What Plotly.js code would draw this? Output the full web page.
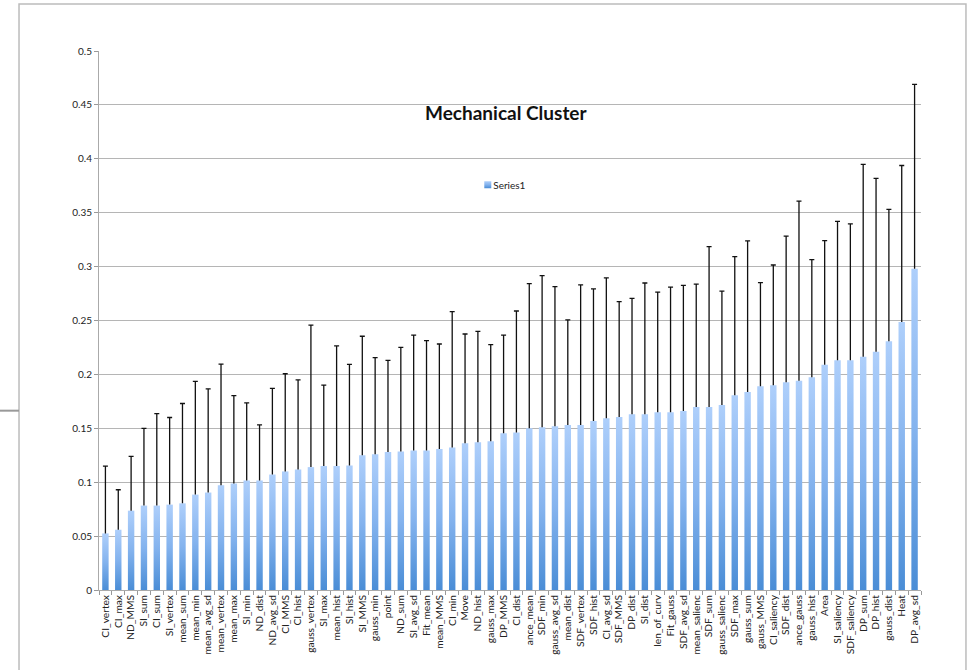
<!DOCTYPE html>
<html>
<head>
<meta charset="utf-8">
<script src="https://cdn.plot.ly/plotly-3.0.1.min.js"></script>
<style>
  html, body { margin: 0; padding: 0; background: #ffffff; }
  #chart { width: 969px; height: 670px; }
</style>
</head>
<body>
<div id="chart"></div>
<script>
const categories = [
  "CI_vertex","CI_max","ND_MMS","SI_sum","CI_sum","SI_vertex","mean_sum","mean_min",
  "mean_avg_sd","mean_vertex","mean_max","SI_min","ND_dist","ND_avg_sd","CI_MMS","CI_hist",
  "gauss_vertex","SI_max","mean_hist","SI_hist","SI_MMS","gauss_min","point","ND_sum",
  "SI_avg_sd","Fit_mean","mean_MMS","CI_min","Move","ND_hist","gauss_max","DP_MMS",
  "CI_dist","ance_mean","SDF_min","gauss_avg_sd","mean_dist","SDF_vertex","SDF_hist","CI_avg_sd",
  "SDF_MMS","DP_dist","SI_dist","len_of_curv","Fit_gauss","SDF_avg_sd","mean_salienc","SDF_sum",
  "gauss_salienc","SDF_max","gauss_sum","gauss_MMS","CI_saliency","SDF_dist","ance_gauss","gauss_hist",
  "Area","SI_saliency","SDF_saliency","DP_sum","DP_hist","gauss_dist","Heat","DP_avg_sd"
];

const series1 = [
  0.0525,0.0559,0.0736,0.0783,0.0783,0.0792,0.0804,0.0885,
  0.0904,0.0972,0.0988,0.1016,0.1016,0.1071,0.1100,0.1118,
  0.1140,0.1150,0.1150,0.1155,0.1250,0.1260,0.1279,0.1285,
  0.1294,0.1294,0.1307,0.1322,0.1362,0.1370,0.1380,0.1455,
  0.1460,0.1500,0.1510,0.1520,0.1530,0.1530,0.1567,0.1594,
  0.1604,0.1630,0.1630,0.1648,0.1648,0.1660,0.1698,0.1698,
  0.1717,0.1807,0.1837,0.1890,0.1900,0.1927,0.1940,0.1974,
  0.2089,0.2132,0.2132,0.2163,0.2210,0.2308,0.2485,0.2980
];

const series1Error = [
  0.0625,0.0371,0.0504,0.0717,0.0854,0.0808,0.0926,0.1050,
  0.0962,0.1124,0.0816,0.0720,0.0515,0.0799,0.0906,0.0832,
  0.1317,0.0750,0.1114,0.0938,0.1104,0.0895,0.0851,0.0965,
  0.1071,0.1019,0.0975,0.1260,0.1013,0.1030,0.0896,0.0910,
  0.1128,0.1342,0.1406,0.1294,0.0975,0.1300,0.1226,0.1301,
  0.1071,0.1076,0.1218,0.1116,0.1162,0.1166,0.1140,0.1487,
  0.1056,0.1286,0.1401,0.0961,0.1115,0.1355,0.1667,0.1091,
  0.1152,0.1288,0.1264,0.1785,0.1608,0.1222,0.1453,0.1710
];

const noMinus = series1.map(() => 0);

const data = [{
  type: 'bar',
  name: 'Series1',
  x: categories,
  y: series1,
  marker: { color: '#7eaeea', line: { width: 0 } },
  error_y: {
    type: 'data',
    symmetric: false,
    array: series1Error,
    arrayminus: noMinus,
    color: '#111111',
    thickness: 1.3,
    width: 2.5
  },
  hoverinfo: 'skip'
}];

const gridCol = '#b5b5b5';
const fam = 'Lato, "Liberation Sans", sans-serif';
const layout = {
  width: 969,
  height: 670,
  margin: { l: 99, r: 48, t: 51, b: 80, autoexpand: false },
  paper_bgcolor: '#ffffff',
  plot_bgcolor: '#ffffff',
  font: { family: fam, size: 10, color: '#222222' },
  title: {
    text: '<b>Mechanical Cluster</b>',
    font: { family: fam, size: 19, color: '#111111' },
    x: 0.522, xref: 'container', xanchor: 'center',
    y: 0.831, yref: 'container', yanchor: 'middle'
  },
  bargap: 0.5,
  showlegend: true,
  legend: {
    x: 0.431, xanchor: 'left',
    y: 0.752, yanchor: 'middle',
    bgcolor: 'rgba(0,0,0,0)',
    font: { family: fam, size: 10, color: '#222222' }
  },
  xaxis: {
    type: 'category',
    tickmode: 'linear',
    tick0: 0,
    dtick: 1,
    tickangle: -90,
    ticks: 'outside',
    tickson: 'boundaries',
    ticklen: 4,
    tickcolor: '#999999',
    showline: true,
    linecolor: '#aaaaaa',
    linewidth: 1,
    showgrid: false,
    automargin: false,
    tickfont: { family: fam, size: 10.2, color: '#222222' }
  },
  yaxis: {
    range: [0, 0.5],
    dtick: 0.05,
    tick0: 0,
    ticks: 'outside',
    ticklen: 4,
    tickcolor: '#999999',
    showline: true,
    linecolor: '#aaaaaa',
    linewidth: 1,
    showgrid: true,
    gridcolor: gridCol,
    gridwidth: 1,
    zeroline: false,
    automargin: false,
    tickfont: { family: fam, size: 10, color: '#222222' }
  },
  shapes: [
    { type: 'rect', xref: 'paper', yref: 'paper',
      x0: -0.0973, x1: 1.0547, y0: -0.25, y1: 1.0872,
      line: { color: '#bcbcbc', width: 1.5 }, fillcolor: 'rgba(0,0,0,0)', layer: 'below' },
    { type: 'line', xref: 'paper', yref: 'paper',
      x0: -0.125, x1: -0.0973, y0: 0.3327, y1: 0.3327,
      line: { color: '#999999', width: 2 } }
  ]
};

Plotly.newPlot('chart', data, layout, { staticPlot: true, displayModeBar: false }).then(function (gd) {
  const ns = 'http://www.w3.org/2000/svg';
  const svg = gd.querySelector('.main-svg');
  let defs = svg.querySelector('defs');
  if (!defs) { defs = document.createElementNS(ns, 'defs'); svg.insertBefore(defs, svg.firstChild); }
  const lg = document.createElementNS(ns, 'linearGradient');
  lg.setAttribute('id', 'barGrad');
  lg.setAttribute('x1', '0'); lg.setAttribute('y1', '0');
  lg.setAttribute('x2', '0'); lg.setAttribute('y2', '1');
  [['0', '#aecffb'], ['0.5', '#84b3ee'], ['1', '#4a8dd6']].forEach(function (s) {
    const st = document.createElementNS(ns, 'stop');
    st.setAttribute('offset', s[0]);
    st.setAttribute('stop-color', s[1]);
    lg.appendChild(st);
  });
  defs.appendChild(lg);
  gd.querySelectorAll('.barlayer .point path').forEach(function (p) {
    p.style.fill = 'url(#barGrad)';
  });
  gd.querySelectorAll('.legend .legendpoints path').forEach(function (p) {
    p.style.fill = 'url(#barGrad)';
    p.setAttribute('d', 'M11,3.5H18V-3.5H11Z');
  });
  gd.querySelectorAll('.errorbar path').forEach(function (p) {
    const d = p.getAttribute('d') || '';
    p.setAttribute('d', d.replace(/m-[\d.]+,0h[\d.]+\s*$/, ''));
  });
});
</script>
</body>
</html>
